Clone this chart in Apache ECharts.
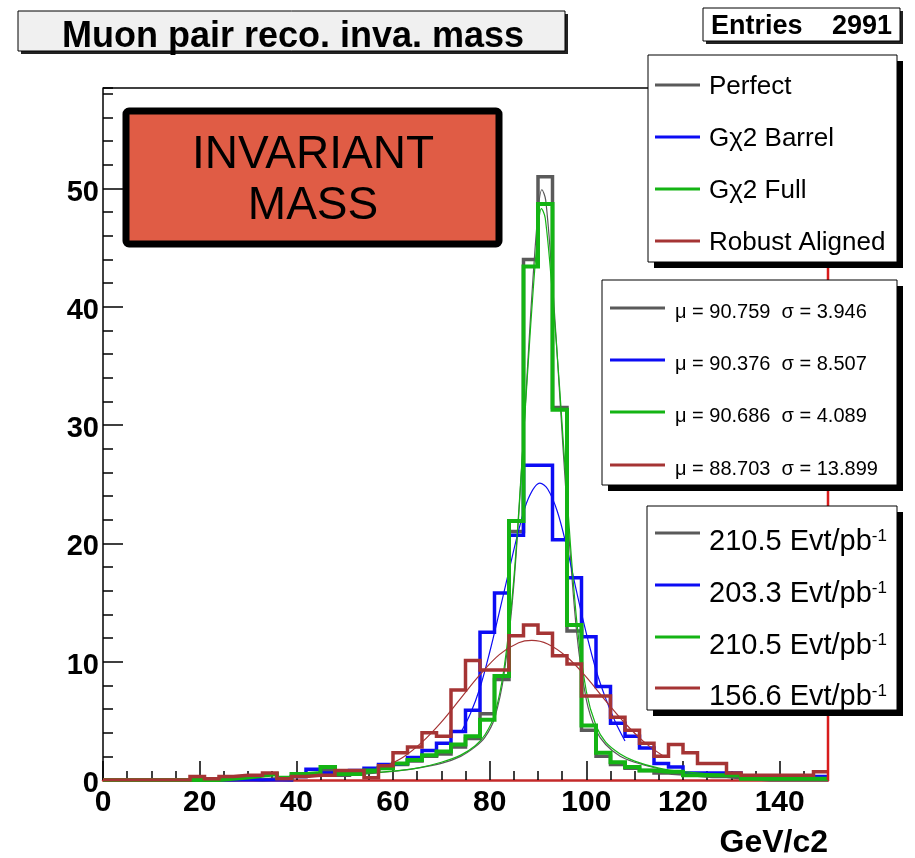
<!DOCTYPE html>
<html>
<head>
<meta charset="utf-8">
<script src="https://cdn.jsdelivr.net/npm/echarts@6/dist/echarts.min.js"></script>
<style>
  html, body { margin: 0; padding: 0; background: #ffffff; }
  #chart { width: 915px; height: 858px; }
</style>
</head>
<body>
<div id="chart"></div>
<script>
// Muon pair invariant mass, 3 GeV bins from 0 to 150 GeV/c2
const binLowEdges = [0,3,6,9,12,15,18,21,24,27,30,33,36,39,42,45,48,51,54,57,60,63,66,69,72,75,78,81,84,87,90,93,96,99,102,105,108,111,114,117,120,123,126,129,132,135,138,141,144,147];
const histUpperEdge = 150;

// bin contents per alignment scenario
const perfect = [0,0,0,0,0,0,0,0,0,0.1,0,0.1,0,0.3,0.5,0.8,0.4,0.6,0.7,1.0,1.3,1.6,2.0,2.2,2.8,3.5,5.6,8.5,21,44,51,31.5,12.6,4.2,2.0,1.3,1.0,0.8,0.6,0.5,0.4,0.3,0.3,0.2,0.1,0,0,0,0,0];
const gx2Barrel = [0,0,0,0,0,0,0,0,0,0,0,0,0,0.3,0.9,0.6,0.5,0.8,1.0,1.3,1.4,1.9,2.5,3.1,4.1,5.9,12.5,15.8,20.7,26.6,26.6,20.3,17.1,12.1,7.9,4.8,3.7,2.7,1.4,1.1,0.6,0.6,0.6,0.6,0.3,0.3,0.3,0.3,0.3,0.3];
const gx2Full = [0,0,0,0,0,0,0,0,0.1,0.2,0.35,0.5,0.2,0.5,0.6,1.1,0.5,0.5,0.8,1.0,1.4,1.7,2.1,2.4,3.0,3.7,5.1,8.8,21.9,43.4,48.7,31.3,13.1,4.6,2.3,1.5,1.1,0.8,0.7,0.7,0.4,0.4,0.4,0.4,0.1,0.1,0.1,0.1,0.1,0.1];
const robustAligned = [0,0,0,0,0,0,0.3,0.1,0.3,0.4,0.4,0.6,0.1,0.3,0.4,0.4,0.8,0.8,0.2,1.2,2.3,2.8,4.0,3.7,7.6,10.1,9.3,9.3,12.2,13.1,12.4,10.5,9.8,7.1,7.1,5.3,4.2,3.1,2.0,3.0,2.3,1.4,1.4,0.6,0.4,0.4,0.4,0.4,0.4,0.7];

// fitted curves, sampled as [mass, value]
const perfectFit = [[40,0.3],[50,0.45],[60,0.72],[65,1.0],[70,1.4],[74,2.0],[77,2.8],[79,3.6],[81,5.2],[83,9.0],[85,16.5],[87,29],[88.5,39.5],[90,48],[90.8,49.9],[91.6,49],[93,42],[94.5,32.5],[96,23],[98,12.5],[100,6.8],[102,4.2],[104,3.0],[107,2.0],[110,1.5],[115,0.95],[120,0.65],[130,0.38],[140,0.24]];
const gx2BarrelFit = [[74,4.0],[76,5.6],[78,7.8],[80,10.8],[82,14.2],[84,17.7],[86,21.1],[88,23.8],[90.4,25.1],[92,24.6],[94,22.7],[96,19.6],[98,15.9],[100,12.4],[102,9.3],[104,6.9],[106,4.9],[108,3.3]];
const gx2FullFit = [[40,0.3],[50,0.45],[60,0.75],[65,1.0],[70,1.5],[74,2.1],[77,2.9],[79,3.8],[81,5.5],[83,9.5],[85,17],[87,29],[88.5,38.5],[90,46.5],[90.7,48.3],[91.5,47.5],[93,41],[94.5,33],[96,24],[98,13.5],[100,7.5],[102,4.6],[104,3.2],[107,2.2],[110,1.6],[115,1.0],[120,0.7],[130,0.4],[140,0.25]];
const robustFit = [[58,1.1],[62,1.9],[66,3.2],[70,4.9],[74,6.9],[78,8.9],[82,10.6],[86,11.6],[88.7,11.8],[92,11.5],[96,10.4],[100,8.7],[104,6.7],[108,4.8],[112,3.2],[116,2.0]];

// legend texts
const seriesNames = ['Perfect', 'G\u03c72 Barrel', 'G\u03c72 Full', 'Robust Aligned'];
const fitResults = ['\u03bc = 90.759  \u03c3 = 3.946', '\u03bc = 90.376  \u03c3 = 8.507', '\u03bc = 90.686  \u03c3 = 4.089', '\u03bc = 88.703  \u03c3 = 13.899'];
const luminosities = ['210.5', '203.3', '210.5', '156.6'];
const entries = 2991;

const colors = ['#5a5a5a', '#0c0cf4', '#14b414', '#a53434'];
const histWidths = [3.5, 3.5, 4, 3.5];

function stairData(values) {
  const d = binLowEdges.map((e, i) => [e, values[i]]);
  d.push([histUpperEdge, values[values.length - 1]]);
  return d;
}

function histSeries(name, values, color, width) {
  return {
    name: name, type: 'line', step: 'end', data: stairData(values),
    showSymbol: false, symbol: 'none', silent: true,
    lineStyle: { color: color, width: width, join: 'miter' }
  };
}
function fitSeries(points, color) {
  return {
    type: 'line', data: points, smooth: 0.35, showSymbol: false, symbol: 'none', silent: true,
    lineStyle: { color: color, width: 1.2 }
  };
}

const chart = echarts.init(document.getElementById('chart'), null, { renderer: 'canvas' });

const labelFont = { color: '#000', fontFamily: 'Liberation Sans', fontWeight: 'bold' };

// legend panels drawn as boxes with drop shadows
function panel(x, y, w, h, shadow) {
  return [
    { type: 'rect', z: 100, shape: { x: x + shadow, y: y + shadow, width: w, height: h }, style: { fill: '#000' } },
    { type: 'rect', z: 101, shape: { x: x, y: y, width: w, height: h }, style: { fill: '#fff', stroke: '#000', lineWidth: 1 } }
  ];
}
function sample(x0, x1, y, color) {
  return { type: 'line', z: 102, shape: { x1: x0, y1: y, x2: x1, y2: y }, style: { stroke: color, lineWidth: 3 } };
}
function label(x, y, text, font, extra) {
  return Object.assign({ type: 'text', z: 103, x: x, y: y,
    style: Object.assign({ text: text, font: font, fill: '#000', align: 'left', verticalAlign: 'middle', textAlign: 'left', textVerticalAlign: 'middle' }, extra || {}) });
}

const graphics = [];
// frame: black top edge, red right edge
graphics.push({ type: 'line', z: 50, shape: { x1: 103, y1: 88, x2: 828, y2: 88 }, style: { stroke: '#000', lineWidth: 1.5 } });
graphics.push({ type: 'line', z: 50, shape: { x1: 828, y1: 88, x2: 828, y2: 780 }, style: { stroke: '#d81c1c', lineWidth: 2.5 } });

// title box
graphics.push({ type: 'rect', z: 100, shape: { x: 21, y: 14, width: 547, height: 40 }, style: { fill: '#222' } });
graphics.push({ type: 'rect', z: 101, shape: { x: 18, y: 11, width: 547, height: 40 }, style: { fill: '#f0f0f0', stroke: '#000', lineWidth: 1 } });
graphics.push(label(293, 37, 'Muon pair reco. inva. mass', 'bold 36px "Liberation Sans"', { align: 'center', textAlign: 'center' }));

// entries box
graphics.push({ type: 'rect', z: 100, shape: { x: 706, y: 11, width: 197, height: 33 }, style: { fill: '#222' } });
graphics.push({ type: 'rect', z: 101, shape: { x: 703, y: 8, width: 197, height: 33 }, style: { fill: '#fff', stroke: '#000', lineWidth: 1 } });
graphics.push(label(711, 27, 'Entries', 'bold 27px "Liberation Sans"'));
graphics.push(label(892, 27, String(entries), 'bold 27px "Liberation Sans"', { align: 'right', textAlign: 'right' }));

// names panel
graphics.push(...panel(648, 55, 249, 207, 6));
[85, 137, 189, 241].forEach((y, i) => {
  graphics.push(sample(655, 700, y, colors[i]));
  graphics.push(label(709, y + 2, seriesNames[i], '26px "Liberation Sans"'));
});

// fit results panel
graphics.push(...panel(602, 280, 295, 205, 6));
[308, 360, 412, 465].forEach((y, i) => {
  graphics.push(sample(610, 665, y, colors[i]));
  graphics.push(label(675, y + 4, fitResults[i], '20px "Liberation Sans"'));
});

// luminosity panel
graphics.push(...panel(647, 506, 250, 204, 6));
[533, 585, 637, 688].forEach((y, i) => {
  graphics.push(sample(655, 700, y, colors[i]));
  graphics.push({
    type: 'text', z: 103, x: 709, y: y + 9,
    style: {
      text: luminosities[i] + ' Evt/pb{sup|-1}',
      font: '29px "Liberation Sans"', fill: '#000',
      align: 'left', verticalAlign: 'middle', textAlign: 'left', textVerticalAlign: 'middle',
      rich: {
        sup: { fontSize: 17, fontFamily: 'Liberation Sans', lineHeight: 17, verticalAlign: 'top', fill: '#000' }
      }
    }
  });
});

// highlighted caption box
graphics.push({ type: 'rect', z: 100, shape: { x: 126, y: 111, width: 373, height: 133, r: 3 }, style: { fill: '#e05c45', stroke: '#000', lineWidth: 7 } });
graphics.push(label(313, 155, 'INVARIANT', '46px "Liberation Sans"', { align: 'center', textAlign: 'center' }));
graphics.push(label(313, 206, 'MASS', '46px "Liberation Sans"', { align: 'center', textAlign: 'center' }));

// x axis title
graphics.push(label(828, 843, 'GeV/c2', 'bold 32px "Liberation Sans"', { align: 'right', textAlign: 'right' }));

const option = {
  animation: false,
  backgroundColor: '#ffffff',
  grid: { left: 103, right: 87, top: 88, bottom: 78, containLabel: false },
  xAxis: [
    {
      type: 'value', min: 0, max: histUpperEdge, interval: 20,
      axisLine: { show: true, onZero: false, lineStyle: { color: '#c42a2a', width: 2.5 } },
      axisTick: { show: true, inside: true, length: 19, lineStyle: { color: '#000', width: 1.5 } },
      axisLabel: Object.assign({ showMaxLabel: false, margin: 8, fontSize: 30 }, labelFont),
      splitLine: { show: false }
    },
    {
      type: 'value', min: 0, max: histUpperEdge, interval: 5, position: 'bottom',
      axisLine: { show: false },
      axisTick: { show: true, inside: true, length: 9, lineStyle: { color: '#000', width: 1.5 } },
      axisLabel: { show: false },
      splitLine: { show: false }
    }
  ],
  yAxis: [
    {
      type: 'value', min: 0, max: 58.5, interval: 10,
      axisLine: { show: true, onZero: false, lineStyle: { color: '#000', width: 1.5 } },
      axisTick: { show: true, inside: true, length: 20, lineStyle: { color: '#000', width: 1.5 } },
      axisLabel: Object.assign({ showMaxLabel: false, margin: 4, fontSize: 29, verticalAlign: 'top', lineHeight: 8 }, labelFont),
      splitLine: { show: false }
    },
    {
      type: 'value', min: 0, max: 58.5, interval: 2, position: 'left',
      axisLine: { show: false },
      axisTick: { show: true, inside: true, length: 10, lineStyle: { color: '#000', width: 1.5 } },
      axisLabel: { show: false },
      splitLine: { show: false }
    }
  ],
  series: [
    histSeries(seriesNames[0], perfect, colors[0], histWidths[0]),
    fitSeries(perfectFit, colors[0]),
    histSeries(seriesNames[1], gx2Barrel, colors[1], histWidths[1]),
    fitSeries(gx2BarrelFit, colors[1]),
    histSeries(seriesNames[2], gx2Full, colors[2], histWidths[2]),
    fitSeries(gx2FullFit, colors[2]),
    histSeries(seriesNames[3], robustAligned, colors[3], histWidths[3]),
    fitSeries(robustFit, colors[3])
  ],
  graphic: graphics
};

chart.setOption(option);
</script>
</body>
</html>
